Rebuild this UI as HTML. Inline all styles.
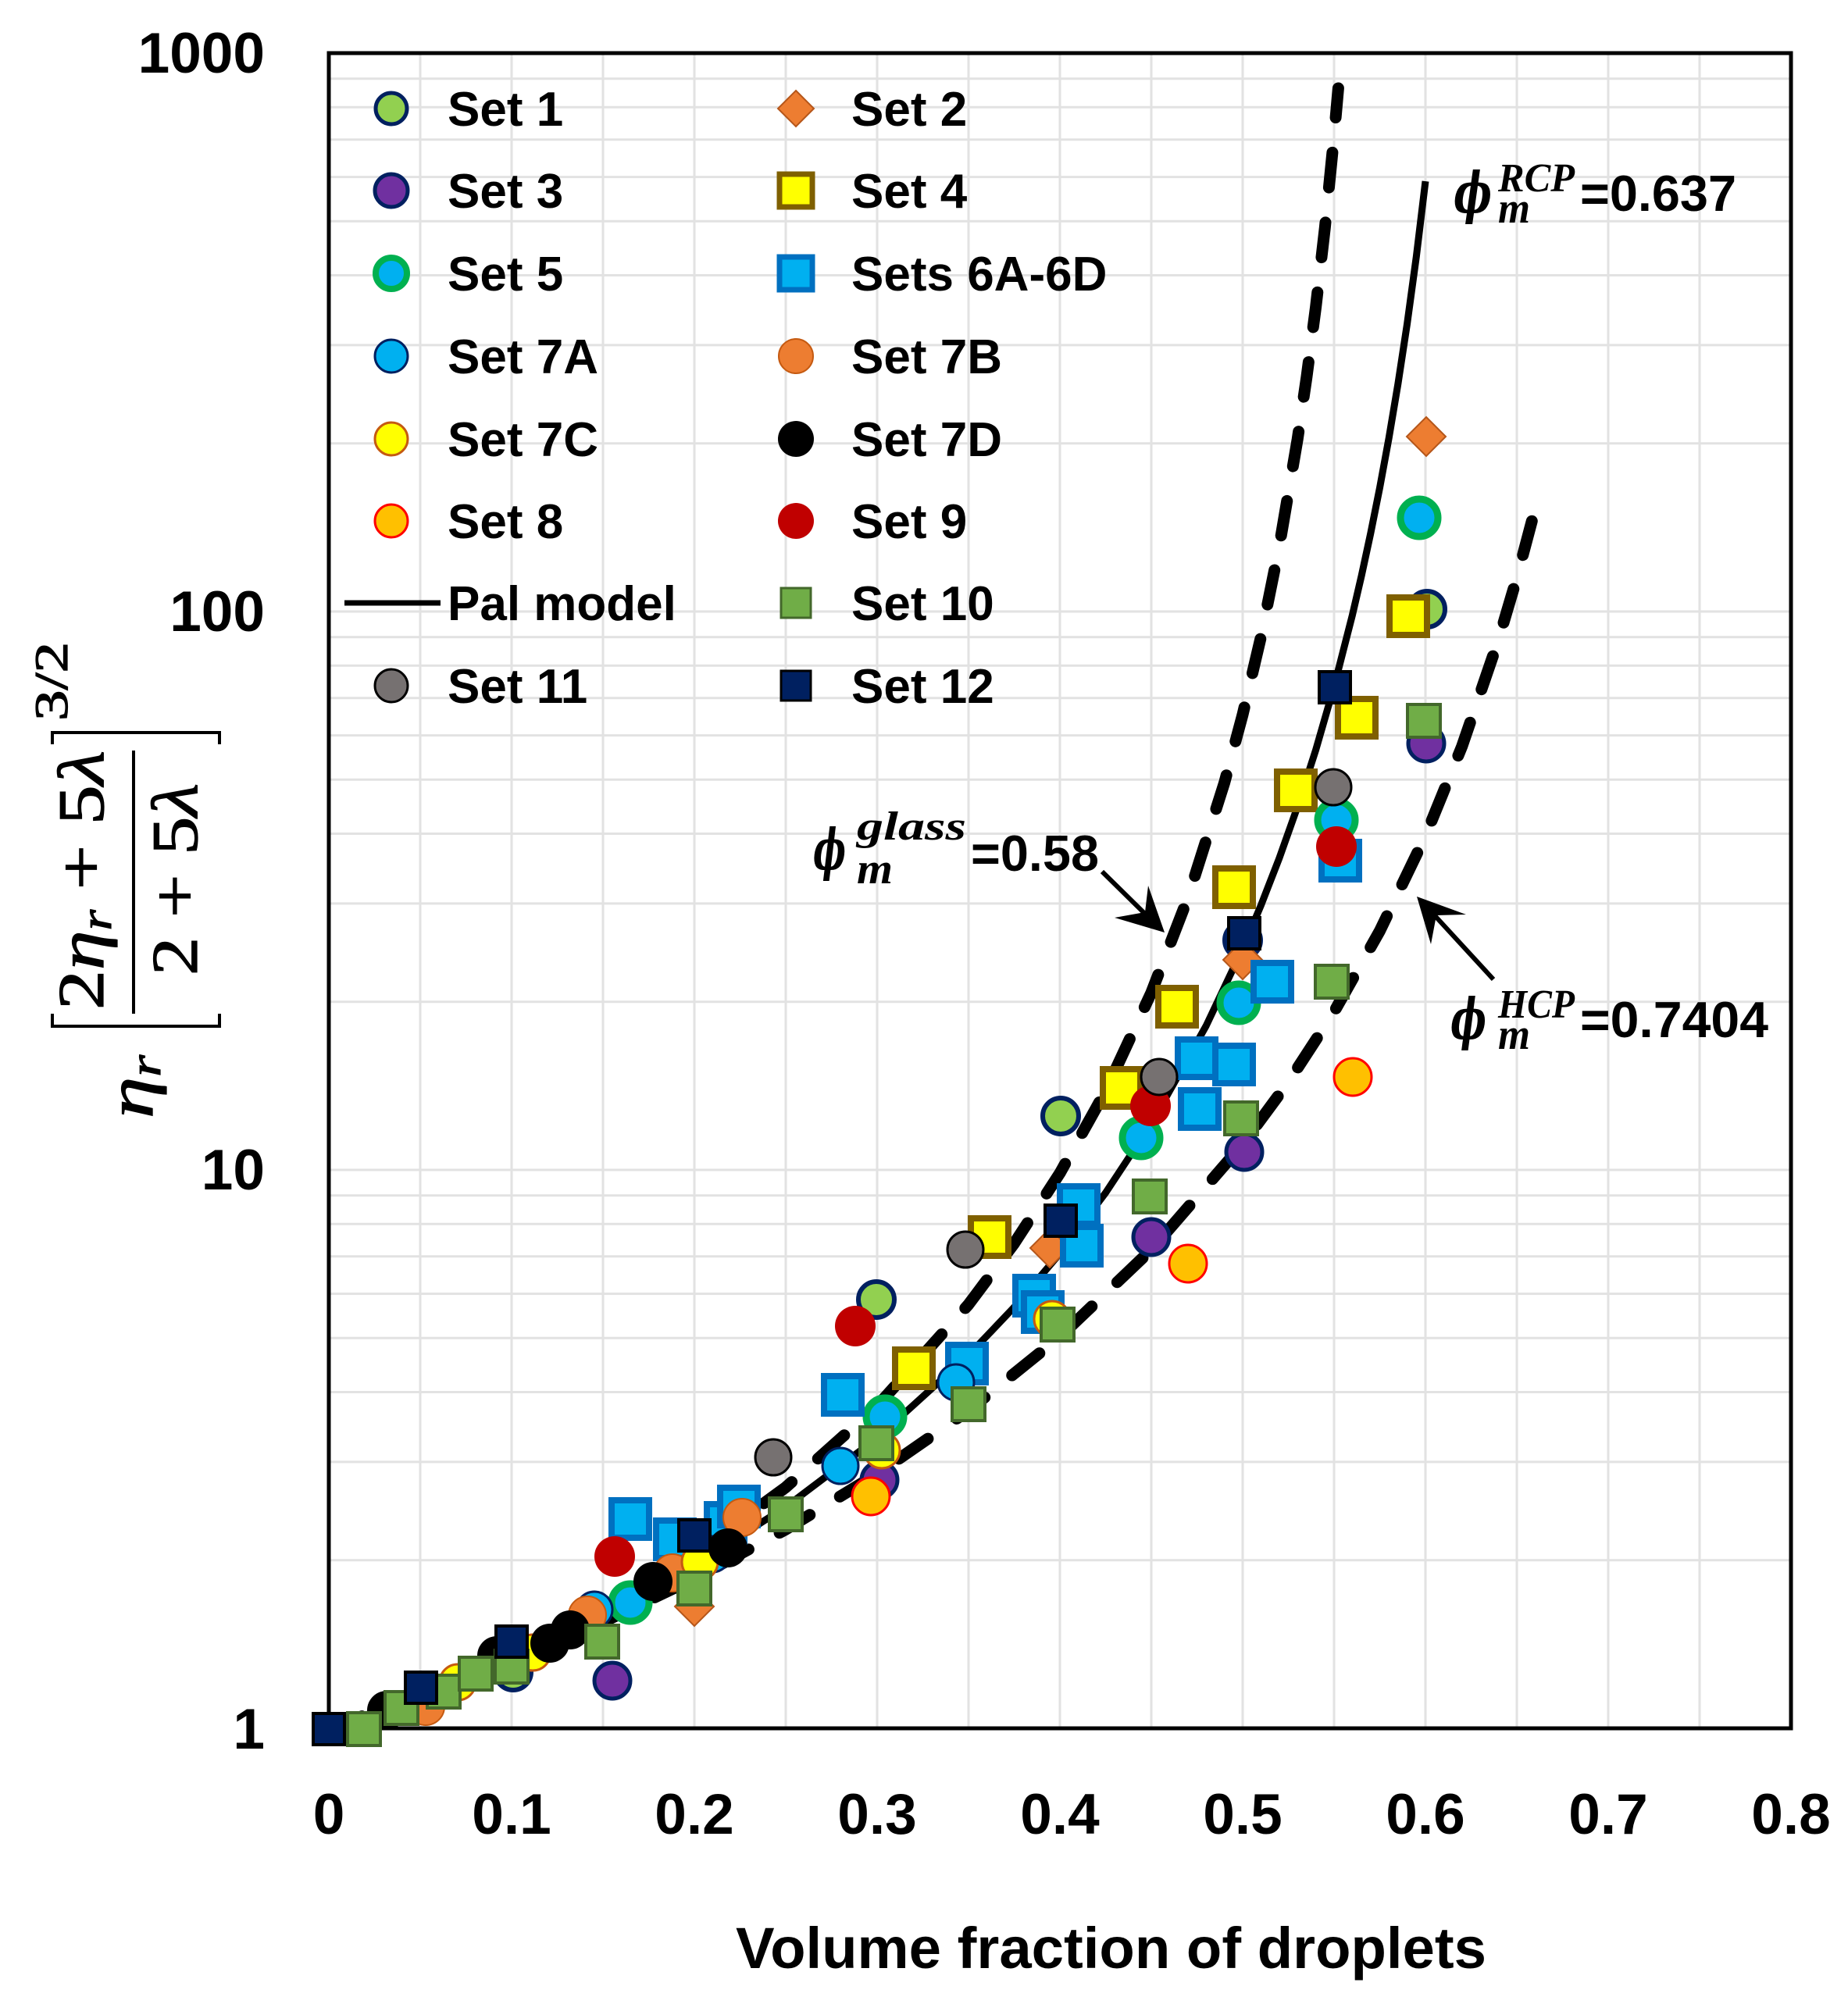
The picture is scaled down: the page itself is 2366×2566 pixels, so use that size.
<!DOCTYPE html>
<html><head><meta charset="utf-8">
<style>
html,body{margin:0;padding:0;background:#fff;}
svg{display:block;}
.sans{font-family:"Liberation Sans",Arial,sans-serif;font-weight:bold;fill:#000;}
.ser{font-family:"Liberation Serif","DejaVu Serif",serif;fill:#000;white-space:pre;}
.grid line{stroke:#e2e2e2;stroke-width:3;}
.s1{fill:#92d050;stroke:#002060;stroke-width:6}
.s2{fill:#ed7d31;stroke:#b5561a;stroke-width:2}
.s3{fill:#7030a0;stroke:#002060;stroke-width:5}
.s4{fill:#ffff00;stroke:#7f6000;stroke-width:8}
.s5{fill:#00b0f0;stroke:#00b050;stroke-width:9}
.s6{fill:#00b0f0;stroke:#0070c0;stroke-width:8}
.s7a{fill:#00b0f0;stroke:#002060;stroke-width:3}
.s7b{fill:#ed7d31;stroke:#c55a11;stroke-width:2}
.s7c{fill:#ffff00;stroke:#c55a11;stroke-width:3}
.s7d{fill:#000}
.s8{fill:#ffc000;stroke:#ff0000;stroke-width:3}
.s9{fill:#c00000}
.s10{fill:#70ad47;stroke:#43682b;stroke-width:4}
.s11{fill:#767171;stroke:#000;stroke-width:3}
.s12{fill:#002060;stroke:#000;stroke-width:4}
</style></head>
<body>
<svg width="2366" height="2566" viewBox="0 0 2366 2566" xmlns="http://www.w3.org/2000/svg">
<rect x="0" y="0" width="2366" height="2566" fill="#fff"/>

<g class="grid">
<line x1="538" y1="68" x2="538" y2="2213"/>
<line x1="655" y1="68" x2="655" y2="2213"/>
<line x1="772" y1="68" x2="772" y2="2213"/>
<line x1="889" y1="68" x2="889" y2="2213"/>
<line x1="1006" y1="68" x2="1006" y2="2213"/>
<line x1="1123" y1="68" x2="1123" y2="2213"/>
<line x1="1240" y1="68" x2="1240" y2="2213"/>
<line x1="1357" y1="68" x2="1357" y2="2213"/>
<line x1="1474" y1="68" x2="1474" y2="2213"/>
<line x1="1591" y1="68" x2="1591" y2="2213"/>
<line x1="1708" y1="68" x2="1708" y2="2213"/>
<line x1="1825" y1="68" x2="1825" y2="2213"/>
<line x1="1942" y1="68" x2="1942" y2="2213"/>
<line x1="2059" y1="68" x2="2059" y2="2213"/>
<line x1="2176" y1="68" x2="2176" y2="2213"/>
<line x1="421" y1="1997.8" x2="2293" y2="1997.8"/>
<line x1="421" y1="1871.9" x2="2293" y2="1871.9"/>
<line x1="421" y1="1782.5" x2="2293" y2="1782.5"/>
<line x1="421" y1="1713.2" x2="2293" y2="1713.2"/>
<line x1="421" y1="1656.6" x2="2293" y2="1656.6"/>
<line x1="421" y1="1608.8" x2="2293" y2="1608.8"/>
<line x1="421" y1="1567.3" x2="2293" y2="1567.3"/>
<line x1="421" y1="1530.7" x2="2293" y2="1530.7"/>
<line x1="421" y1="1498" x2="2293" y2="1498"/>
<line x1="421" y1="1282.8" x2="2293" y2="1282.8"/>
<line x1="421" y1="1156.9" x2="2293" y2="1156.9"/>
<line x1="421" y1="1067.5" x2="2293" y2="1067.5"/>
<line x1="421" y1="998.2" x2="2293" y2="998.2"/>
<line x1="421" y1="941.6" x2="2293" y2="941.6"/>
<line x1="421" y1="893.8" x2="2293" y2="893.8"/>
<line x1="421" y1="852.3" x2="2293" y2="852.3"/>
<line x1="421" y1="815.7" x2="2293" y2="815.7"/>
<line x1="421" y1="783" x2="2293" y2="783"/>
<line x1="421" y1="567.8" x2="2293" y2="567.8"/>
<line x1="421" y1="441.9" x2="2293" y2="441.9"/>
<line x1="421" y1="352.5" x2="2293" y2="352.5"/>
<line x1="421" y1="283.2" x2="2293" y2="283.2"/>
<line x1="421" y1="226.6" x2="2293" y2="226.6"/>
<line x1="421" y1="178.8" x2="2293" y2="178.8"/>
<line x1="421" y1="137.3" x2="2293" y2="137.3"/>
<line x1="421" y1="100.7" x2="2293" y2="100.7"/>
</g>

<rect x="421" y="68" width="1872" height="2145" fill="none" stroke="#000" stroke-width="5"/>

<polyline fill="none" stroke="#000" stroke-width="15" stroke-linecap="round" stroke-linejoin="round" stroke-dasharray="45 45"
 points="421,2213 538,2170.6 655,2120.4 772,2060.8 889,1989.7 1006,1904.4 1123,1800.3 1240,1670.3 1298.5,1592.1 1357,1502.1 1415.5,1396.9 1474,1271 1520.8,1149.8 1567.6,1002.3 1591,915 1614.4,815.5 1637.8,699.9 1661.2,562.5 1672.9,482.7 1684.6,393.3 1696.3,291.7 1708,174 1713.4,113"/>
<polyline fill="none" stroke="#000" stroke-width="15" stroke-linecap="round" stroke-linejoin="round" stroke-dasharray="45 45"
 points="421,2213 538,2172.2 655,2127.1 772,2077 889,2021.2 1006,1958.4 1123,1887.3 1240,1806 1357,1711.6 1474,1600.2 1591,1465.1 1649.5,1385.6 1708,1295.6 1766.5,1192 1825,1070.4 1871.8,955.6 1918.6,819 1942,739.8 1963.1,660.3"/>
<polyline fill="none" stroke="#000" stroke-width="9" stroke-linejoin="round"
 points="421,2213 538,2171.4 655,2123.5 772,2068.2 889,2004.3 1006,1929.5 1123,1841.3 1240,1735.2 1298.5,1673.7 1357,1604.9 1415.5,1527.3 1474,1438.7 1544.2,1313.5 1591,1214.6 1614.4,1159.2 1637.8,1099 1661.2,1033 1684.6,960.2 1708,879.1 1731.4,787.7 1743.1,737.3 1754.8,683 1766.5,624.5 1778.2,560.9 1789.9,491.3 1801.6,414.5 1813.3,328.8 1825,232.1"/>

<circle class="s1" cx="657" cy="2141" r="23"/>
<circle class="s1" cx="1122" cy="1664" r="23"/>
<circle class="s1" cx="1358" cy="1429" r="23"/>
<circle class="s1" cx="1591" cy="1204" r="23"/>
<circle class="s1" cx="1827" cy="780" r="23"/>

<polygon class="s2" points="889,2032 914,2057 889,2082 864,2057"/>
<polygon class="s2" points="1344,1573 1369,1598 1344,1623 1319,1598"/>
<polygon class="s2" points="1591,1204 1616,1229 1591,1254 1566,1229"/>
<polygon class="s2" points="1826,534 1851,559 1826,584 1801,559"/>

<circle class="s3" cx="784" cy="2152" r="23"/>
<circle class="s3" cx="1126" cy="1895" r="23"/>
<circle class="s3" cx="1474" cy="1584" r="23"/>
<circle class="s3" cx="1593" cy="1475" r="23"/>
<circle class="s3" cx="1826" cy="952" r="23"/>

<rect class="s4" x="1146" y="1728" width="48" height="48"/>
<rect class="s4" x="1243" y="1560" width="48" height="48"/>
<rect class="s4" x="1412" y="1369" width="48" height="48"/>
<rect class="s4" x="1483" y="1265" width="48" height="48"/>
<rect class="s4" x="1556" y="1112" width="48" height="48"/>
<rect class="s4" x="1635" y="988" width="48" height="48"/>
<rect class="s4" x="1713" y="895" width="48" height="48"/>
<rect class="s4" x="1779" y="765" width="48" height="48"/>

<circle class="s5" cx="807" cy="2052" r="24"/>
<circle class="s5" cx="1133" cy="1814" r="24"/>
<circle class="s5" cx="1461" cy="1457" r="24"/>
<circle class="s5" cx="1586" cy="1284" r="24"/>
<circle class="s5" cx="1711" cy="1050" r="24"/>
<circle class="s5" cx="1817" cy="663" r="24"/>

<rect class="s6" x="783" y="1921" width="48" height="48"/>
<rect class="s6" x="840" y="1947" width="48" height="48"/>
<rect class="s6" x="905" y="1926" width="48" height="48"/>
<rect class="s6" x="922" y="1905" width="48" height="48"/>
<rect class="s6" x="1055" y="1762" width="48" height="48"/>
<rect class="s6" x="1214" y="1722" width="48" height="48"/>
<rect class="s6" x="1300" y="1635" width="48" height="48"/>
<rect class="s6" x="1311" y="1656" width="48" height="48"/>
<rect class="s6" x="1357" y="1519" width="48" height="48"/>
<rect class="s6" x="1361" y="1571" width="48" height="48"/>
<rect class="s6" x="1508" y="1331" width="48" height="48"/>
<rect class="s6" x="1556" y="1339" width="48" height="48"/>
<rect class="s6" x="1512" y="1396" width="48" height="48"/>
<rect class="s6" x="1605" y="1233" width="48" height="48"/>
<rect class="s6" x="1692" y="1078" width="48" height="48"/>

<circle class="s7a" cx="761" cy="2061" r="23"/>
<circle class="s7a" cx="912" cy="1990" r="23"/>
<circle class="s7a" cx="1076" cy="1877" r="23"/>
<circle class="s7a" cx="1224" cy="1770" r="23"/>

<circle class="s7b" cx="545" cy="2185" r="24"/>
<circle class="s7b" cx="752" cy="2068" r="24"/>
<circle class="s7b" cx="861" cy="2014" r="24"/>
<circle class="s7b" cx="950" cy="1943" r="24"/>

<circle class="s7c" cx="586" cy="2154" r="23"/>
<circle class="s7c" cx="682" cy="2116" r="23"/>
<circle class="s7c" cx="896" cy="2000" r="23"/>
<circle class="s7c" cx="1129" cy="1857" r="23"/>
<circle class="s7c" cx="1347" cy="1689" r="23"/>

<circle class="s7d" cx="495" cy="2190" r="25"/>
<circle class="s7d" cx="636" cy="2120" r="25"/>
<circle class="s7d" cx="704" cy="2104" r="25"/>
<circle class="s7d" cx="730" cy="2087" r="25"/>
<circle class="s7d" cx="836" cy="2025" r="25"/>
<circle class="s7d" cx="932" cy="1982" r="25"/>

<circle class="s8" cx="1115" cy="1916" r="24"/>
<circle class="s8" cx="1521" cy="1618" r="24"/>
<circle class="s8" cx="1732" cy="1379" r="24"/>

<circle class="s9" cx="787" cy="1993" r="26"/>
<circle class="s9" cx="1095" cy="1698" r="26"/>
<circle class="s9" cx="1473" cy="1416" r="26"/>
<circle class="s9" cx="1711" cy="1084" r="26"/>

<rect class="s10" x="445" y="2193" width="42" height="42"/>
<rect class="s10" x="493" y="2166" width="42" height="42"/>
<rect class="s10" x="547" y="2145" width="42" height="42"/>
<rect class="s10" x="588" y="2122" width="42" height="42"/>
<rect class="s10" x="634" y="2113" width="42" height="42"/>
<rect class="s10" x="750" y="2081" width="42" height="42"/>
<rect class="s10" x="868" y="2013" width="42" height="42"/>
<rect class="s10" x="985" y="1918" width="42" height="42"/>
<rect class="s10" x="1101" y="1827" width="42" height="42"/>
<rect class="s10" x="1219" y="1777" width="42" height="42"/>
<rect class="s10" x="1333" y="1675" width="42" height="42"/>
<rect class="s10" x="1451" y="1511" width="42" height="42"/>
<rect class="s10" x="1568" y="1411" width="42" height="42"/>
<rect class="s10" x="1684" y="1236" width="42" height="42"/>
<rect class="s10" x="1802" y="902" width="42" height="42"/>

<circle class="s11" cx="990" cy="1866" r="23"/>
<circle class="s11" cx="1236" cy="1600" r="23"/>
<circle class="s11" cx="1484" cy="1379" r="23"/>
<circle class="s11" cx="1707" cy="1008" r="23"/>

<rect class="s12" x="401" y="2194" width="40" height="40"/>
<rect class="s12" x="519" y="2141" width="40" height="40"/>
<rect class="s12" x="635" y="2082" width="40" height="40"/>
<rect class="s12" x="869" y="1946" width="40" height="40"/>
<rect class="s12" x="1338" y="1543" width="40" height="40"/>
<rect class="s12" x="1573" y="1175" width="40" height="40"/>
<rect class="s12" x="1689" y="860" width="40" height="40"/>

<circle class="s1" cx="501" cy="139" r="20" style="stroke-width:5"/>
<circle class="s3" cx="501" cy="244" r="21"/>
<circle class="s5" cx="501" cy="350" r="20" style="stroke-width:8"/>
<circle class="s7a" cx="501" cy="456" r="21"/>
<circle class="s7c" cx="501" cy="562" r="21"/>
<circle class="s8" cx="501" cy="667" r="21"/>
<line x1="441" y1="772" x2="564" y2="772" stroke="#000" stroke-width="7"/>
<circle class="s11" cx="501" cy="878" r="21"/>

<polygon class="s2" points="1019,116 1042,139 1019,162 996,139"/>
<rect class="s4" x="998" y="223" width="42" height="42" style="stroke-width:7"/>
<rect class="s6" x="998" y="329" width="42" height="42" style="stroke-width:7"/>
<circle class="s7b" cx="1019" cy="456" r="22"/>
<circle class="s7d" cx="1019" cy="562" r="23"/>
<circle class="s9" cx="1019" cy="667" r="23"/>
<rect class="s10" x="1000" y="753" width="38" height="38" style="stroke-width:3"/>
<rect class="s12" x="1000" y="859" width="38" height="38" style="stroke-width:3"/>

<g class="sans" font-size="62">
<text x="573" y="161">Set 1</text>
<text x="573" y="266">Set 3</text>
<text x="573" y="372">Set 5</text>
<text x="573" y="478">Set 7A</text>
<text x="573" y="584">Set 7C</text>
<text x="573" y="689">Set 8</text>
<text x="573" y="794">Pal model</text>
<text x="573" y="900">Set 11</text>
<text x="1090" y="161">Set 2</text>
<text x="1090" y="266">Set 4</text>
<text x="1090" y="372">Sets 6A-6D</text>
<text x="1090" y="478">Set 7B</text>
<text x="1090" y="584">Set 7D</text>
<text x="1090" y="689">Set 9</text>
<text x="1090" y="794">Set 10</text>
<text x="1090" y="900">Set 12</text>
</g>

<g class="sans" font-size="73" text-anchor="end">
<text x="339" y="93">1000</text>
<text x="339" y="808">100</text>
<text x="339" y="1523">10</text>
<text x="339" y="2239">1</text>
</g>
<g class="sans" font-size="73" text-anchor="middle">
<text x="421" y="2348">0</text>
<text x="655" y="2348">0.1</text>
<text x="889" y="2348">0.2</text>
<text x="1123" y="2348">0.3</text>
<text x="1357" y="2348">0.4</text>
<text x="1591" y="2348">0.5</text>
<text x="1825" y="2348">0.6</text>
<text x="2059" y="2348">0.7</text>
<text x="2293" y="2348">0.8</text>
</g>
<text class="sans" x="942" y="2520" font-size="74" textLength="961" lengthAdjust="spacingAndGlyphs">Volume fraction of droplets</text>

<g stroke="#000" stroke-width="4" fill="none">
<polyline points="67,953 67,938 281,938 281,953"/>
<polyline points="67,1298 67,1314 281,1314 281,1298"/>
<line x1="171" y1="961" x2="171" y2="1298"/>
</g>
<g transform="rotate(-90)" stroke="#000" stroke-width="1.2">
<text class="ser" x="-1293" y="132" font-size="84" textLength="332" lengthAdjust="spacingAndGlyphs">2<tspan font-style="italic">η</tspan><tspan font-style="italic" font-size="56" dy="10">r</tspan><tspan dy="-10"> + 5</tspan><tspan font-style="italic">λ</tspan></text>
<text class="ser" x="-1249" y="252" font-size="84" textLength="246" lengthAdjust="spacingAndGlyphs">2 + 5<tspan font-style="italic">λ</tspan></text>
<text class="ser" x="-1432" y="195" font-size="84" textLength="81" lengthAdjust="spacingAndGlyphs"><tspan font-style="italic">η</tspan><tspan font-style="italic" font-size="56" dy="10">r</tspan></text>
<text class="ser" x="-923" y="86" font-size="60" textLength="101" lengthAdjust="spacingAndGlyphs">3/2</text>
</g>

<g class="ser" font-weight="bold" font-style="italic">
<text x="1041" y="1113" font-size="72" font-family="DejaVu Serif, serif" textLength="42" lengthAdjust="spacingAndGlyphs">ϕ</text>
<text x="1097" y="1075" font-size="52" textLength="140" lengthAdjust="spacingAndGlyphs">glass</text>
<text x="1097" y="1131" font-size="56" textLength="46" lengthAdjust="spacingAndGlyphs">m</text>
<text x="1861" y="272" font-size="72" font-family="DejaVu Serif, serif" textLength="49" lengthAdjust="spacingAndGlyphs">ϕ</text>
<text x="1918" y="245" font-size="52" textLength="98" lengthAdjust="spacingAndGlyphs">RCP</text>
<text x="1918" y="285" font-size="56" textLength="41" lengthAdjust="spacingAndGlyphs">m</text>
<text x="1857" y="1330" font-size="72" font-family="DejaVu Serif, serif" textLength="46" lengthAdjust="spacingAndGlyphs">ϕ</text>
<text x="1918" y="1303" font-size="52" textLength="98" lengthAdjust="spacingAndGlyphs">HCP</text>
<text x="1918" y="1343" font-size="56" textLength="41" lengthAdjust="spacingAndGlyphs">m</text>
</g>
<g class="sans" font-size="65">
<text x="1243" y="1115" textLength="164" lengthAdjust="spacingAndGlyphs">=0.58</text>
<text x="2023" y="270" textLength="200" lengthAdjust="spacingAndGlyphs">=0.637</text>
<text x="2023" y="1328" textLength="241" lengthAdjust="spacingAndGlyphs">=0.7404</text>
</g>

<line x1="1411" y1="1116" x2="1472" y2="1176" stroke="#000" stroke-width="6"/>
<polygon points="1491,1194 1427,1175 1466,1168 1470,1134" fill="#000"/>
<line x1="1912" y1="1254" x2="1832" y2="1167" stroke="#000" stroke-width="6"/>
<polygon points="1814,1148 1877,1171 1839,1172 1832,1209" fill="#000"/>
</svg>
</body></html>
